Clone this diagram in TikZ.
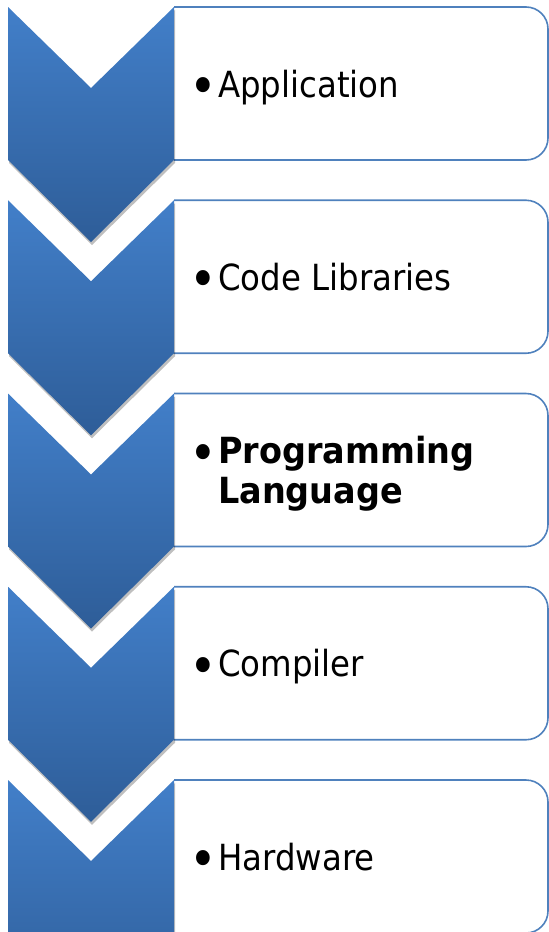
\documentclass[tikz,border=0pt]{standalone}
\usepackage{fontspec}
\usepackage{graphicx}
\setmainfont{DejaVu Sans}[FakeStretch=0.9, BoldFeatures={FakeStretch=0.93}]
\usetikzlibrary{shadows}
\definecolor{chevtop}{RGB}{66,127,201}
\definecolor{chevbot}{RGB}{46,93,152}
\definecolor{cardline}{RGB}{79,129,189}
\tikzset{
  card/.style={draw=cardline, line width=1.6pt, fill=white, rounded corners=22pt},
  chevron/.style={top color=chevtop, bottom color=chevbot,
    drop shadow={shadow xshift=1pt, shadow yshift=-3pt, opacity=0.25, fill=black}},
  itemtext/.style={anchor=base west, inner sep=0pt, font=\fontsize{36}{40}\selectfont},
}
\newcommand\bigbullet{\makebox[23pt][l]{\hspace*{-6pt}\raisebox{-7.5pt}{\scalebox{1.45}{\textbullet}}}}
\newcommand\stepitem[1]{\parbox[t]{335pt}{\raggedright\hangindent=23pt\hangafter=1\noindent\bigbullet#1}}
\begin{document}
\begin{tikzpicture}[x=1pt,y=-1pt]
  \useasboundingbox (0,0) rectangle (549,932);
  \foreach \i/\txt/\base in {0/{Application}/90, 1/{Code Libraries}/90,
      2/{\textbf{Programming\newline Language}}/70, 3/{Compiler}/90, 4/{Hardware}/90}{
    \pgfmathsetmacro\t{7+193.25*\i}
    \pgfmathsetmacro\b{\t+153}
    % text card with rounded right corners; its left side lies under the chevron
    \filldraw[card] (174,\t) -- (548,\t) -- (548,\b) -- (174,\b);
    % downward chevron
    \path[chevron] (8,\t) -- (91,\t+81) -- (174,\t) -- (174,\b) -- (91,\b+82) -- (8,\b) -- cycle;
    \node[itemtext] (item\i) at (195,\t+\base) {\stepitem{\txt}};
  }
\end{tikzpicture}
\end{document}
